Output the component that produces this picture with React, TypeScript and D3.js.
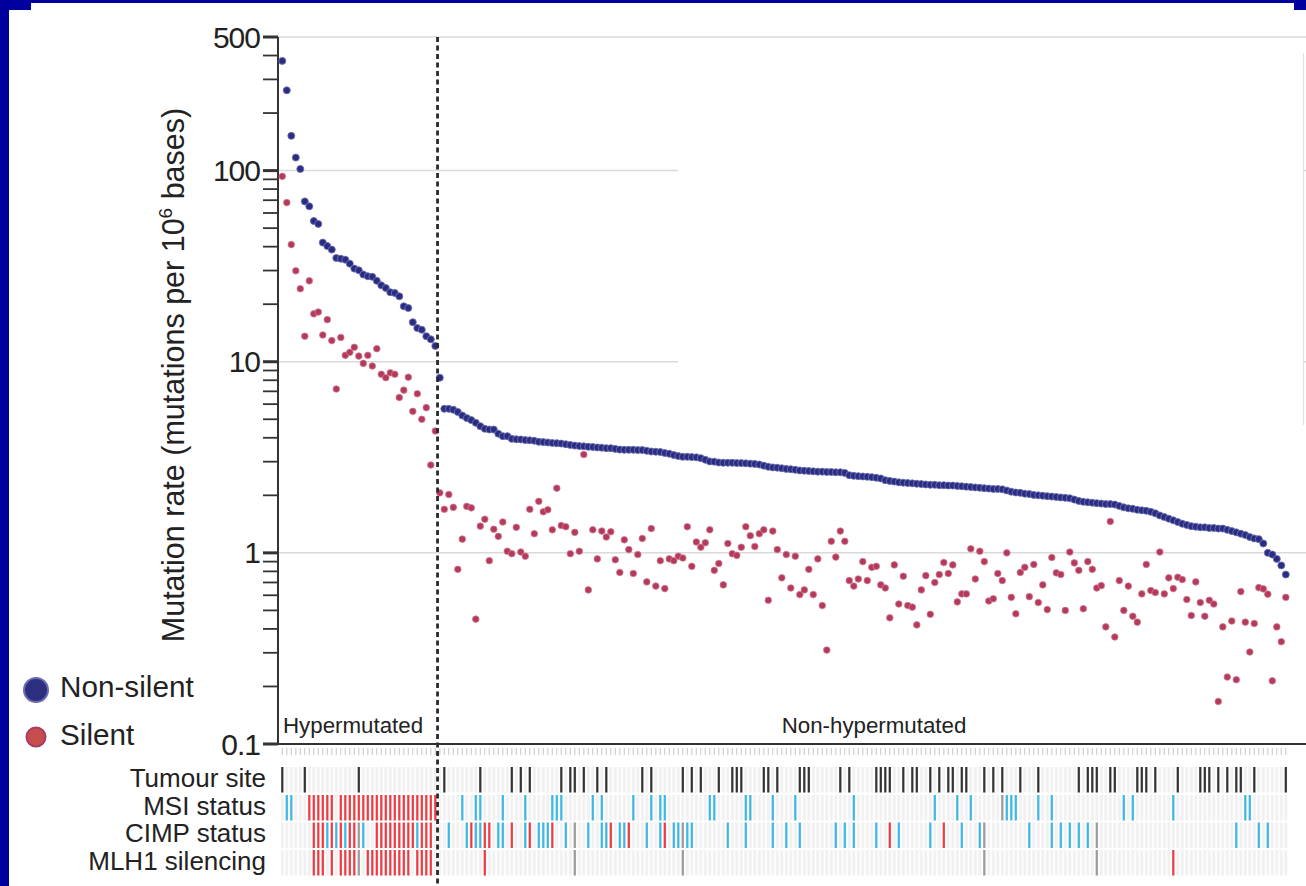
import React from "react";
import * as d3 from "d3";

// ---------- DATA ----------
// Non-silent mutation rate per sample (mutations per 10^6 bases), sorted
const nonSilent: number[] = [
  375, 263, 152, 117, 102, 69, 65, 54.5, 52.6, 42, 40.3, 38.6, 34.9, 34.6, 34.2, 32.6, 30.7, 30.1, 28.6, 28.0,
  27.8, 26.5, 25.1, 24.3, 23.1, 22.9, 22.0, 19.5, 19.1, 16.1, 15.0, 14.7, 13.6, 13.1, 12.1,
  8.25, 5.67, 5.67, 5.61, 5.46, 5.23, 5.07, 4.95, 4.79, 4.6, 4.46, 4.42, 4.42, 4.2, 4.08,
  4.08, 3.95, 3.93, 3.92, 3.89, 3.88, 3.86, 3.81, 3.8, 3.78, 3.76, 3.75, 3.73, 3.7, 3.67,
  3.64, 3.62, 3.61, 3.59, 3.58, 3.56, 3.55, 3.53, 3.53, 3.5, 3.47, 3.46, 3.46, 3.46, 3.45,
  3.45, 3.42, 3.39, 3.38, 3.37, 3.33, 3.3, 3.25, 3.21, 3.18, 3.18, 3.17, 3.16, 3.13, 3.07,
  3.01, 3.0, 2.97, 2.96, 2.96,
  2.96, 2.95, 2.95, 2.94, 2.93, 2.92, 2.9, 2.86,
  2.82, 2.8, 2.79, 2.77, 2.75, 2.74, 2.72, 2.7,
  2.69, 2.68, 2.67, 2.66, 2.66, 2.65, 2.65, 2.64, 2.64, 2.62,
  2.55, 2.53, 2.52, 2.51, 2.5, 2.49, 2.47, 2.45, 2.4, 2.38,
  2.36, 2.34, 2.33, 2.32, 2.31, 2.3, 2.29, 2.28, 2.27, 2.27,
  2.26, 2.26, 2.25, 2.25, 2.24, 2.23, 2.22, 2.21, 2.2, 2.19,
  2.18, 2.17, 2.16, 2.16, 2.15, 2.12, 2.09, 2.07, 2.06, 2.04,
  2.03, 2.01, 2.0, 1.99, 1.98, 1.97, 1.96, 1.95, 1.94, 1.93,
  1.9, 1.87, 1.85, 1.84, 1.83, 1.82, 1.81, 1.8, 1.8, 1.79,
  1.76, 1.73, 1.71, 1.7, 1.68, 1.67, 1.66, 1.64, 1.61, 1.57,
  1.54, 1.51, 1.48, 1.45, 1.42, 1.4, 1.38, 1.37, 1.36, 1.36,
  1.35, 1.35, 1.34, 1.34, 1.32, 1.3, 1.28, 1.26, 1.24, 1.21,
  1.19, 1.18, 1.12, 1.0, 0.98, 0.93, 0.86, 0.77,
];

// Silent mutation rate per sample
const silent: number[] = [
  93.3, 68, 41, 29.9, 24.1, 13.6, 26.5, 17.8, 18.2, 13.8, 16.6, 12.9, 7.2, 13.4, 10.8, 11.2, 11.9, 10.7, 9.8, 10.8,
  9.5, 11.7, 8.6, 8.25, 8.75, 8.6, 6.5, 7.1, 8.3, 5.5, 6.8, 5.0, 5.75, 2.88, 4.34,
  2.06, 1.69, 2.02, 1.73, 0.82, 1.18, 1.75, 1.72, 0.45, 1.38, 1.5, 0.91, 1.33, 1.22, 1.45,
  1.02, 0.99, 1.36, 1.01, 0.96, 1.69, 1.26, 1.86, 1.64, 1.68, 1.32, 2.18, 1.39, 1.37, 0.99,
  1.28, 1.02, 3.27, 0.64, 1.32, 0.93, 1.3, 1.21, 1.29, 0.92, 0.79, 1.17, 1.04, 0.78, 0.98,
  1.19, 0.705, 1.34, 0.67, 0.91, 0.65, 0.93, 0.91, 0.96, 0.94, 1.37, 0.85, 1.14, 1.07, 1.13,
  1.32, 0.81, 0.88, 0.68, 1.12,
  0.99, 0.97, 1.07, 1.37, 1.23, 1.08, 1.26, 1.32, 0.565, 1.3,
  1.04, 0.74, 0.98, 0.655, 0.96, 0.605, 0.64, 0.82, 0.605, 0.93,
  0.53, 0.31, 1.15, 0.95, 1.3, 1.15, 0.716, 0.67, 0.73, 0.9,
  0.716, 0.84, 0.85, 0.68, 0.655, 0.457, 0.865, 0.54, 0.755, 0.53,
  0.52, 0.42, 0.64, 0.76, 0.477, 0.7, 0.77, 0.89, 0.78, 0.865,
  0.554, 0.61, 0.61, 1.05, 0.73, 1.02, 0.9, 0.56, 0.575, 0.78,
  0.716, 1.0, 0.585, 0.48, 0.79, 0.84, 0.59, 0.87, 0.55, 0.68,
  0.505, 0.945, 0.786, 0.77, 0.5, 1.01, 0.886, 0.81, 0.51, 0.9,
  0.82, 0.655, 0.674, 0.41, 1.46, 0.363, 0.716, 0.5, 0.67, 0.466,
  0.434, 0.61, 0.87, 0.635, 0.62, 1.01, 0.61, 0.74, 0.65, 0.746,
  0.725, 0.57, 0.47, 0.705, 0.55, 0.466, 0.565, 0.54, 0.167, 0.41,
  0.224, 0.44, 0.217, 0.627, 0.434, 0.303, 0.427, 0.658, 0.648, 0.608,
  0.214, 0.41, 0.343, 0.585,
];

const hypermutatedCount = 35;

const yTickLabels: number[] = [500, 100, 10, 1, 0.1];
const yMinorTicks: number[] = [
  400, 300, 200,
  90, 80, 70, 60, 50, 40, 30, 20,
  9, 8, 7, 6, 5, 4, 3, 2,
  0.9, 0.8, 0.7, 0.6, 0.5, 0.4, 0.3, 0.2,
];
const gridValues: number[] = [500, 100, 10, 1];

const trackLabels: string[] = ["Tumour site", "MSI status", "CIMP status", "MLH1 silencing"];

// Tumour site (black marks)
const tumourSiteMarked: number[] = [
  0, 5, 17, 36, 44, 51, 53, 55, 62, 64, 65, 67, 70, 72, 80, 82, 89, 91, 93, 97, 100, 101, 102, 107, 108,
  110, 115, 116, 117, 124, 126, 132, 133, 134, 135, 138, 140, 141, 144, 146, 148, 149, 151, 152, 156,
  158, 160, 164, 168, 177, 179, 180, 181, 184, 185, 190, 191, 192, 194, 199, 204, 205, 206, 208, 210,
  212, 213, 216, 223,
];
// MSI status
const msiHigh: number[] = [6, 7, 8, 9, 10, 11, 13, 14, 15, 16, 17, 18, 19, 20, 21, 22, 23, 24, 25, 26, 27, 28, 29, 30, 31, 32, 33, 34];
const msiLow: number[] = [
  1, 2, 40, 43, 44, 49, 54, 60, 61, 62, 69, 71, 78, 82, 84, 85, 95, 96, 103, 104, 109, 114, 127, 145,
  150, 153, 161, 162, 163, 168, 171, 187, 189, 198, 214, 215,
];
const msiOther: number[] = [160];
// CIMP status
const cimpHigh: number[] = [7, 8, 9, 11, 13, 15, 16, 21, 22, 23, 24, 25, 26, 27, 28, 29, 31, 32, 33, 42, 45, 46, 51, 55, 60, 73, 77, 85, 135, 147];
const cimpLow: number[] = [
  10, 12, 14, 18, 30, 37, 41, 43, 44, 48, 49, 54, 57, 58, 59, 63, 68, 71, 72, 75, 76, 81, 84, 87, 88,
  90, 91, 99, 103, 109, 112, 115, 123, 125, 127, 132, 137, 144, 151, 155, 166, 171, 173, 175, 177,
  179, 212, 217, 219,
];
const cimpOther: number[] = [17, 65, 89, 156, 181];
// MLH1 silencing
const mlh1Silenced: number[] = [7, 8, 9, 11, 13, 14, 15, 16, 19, 20, 21, 22, 23, 24, 25, 26, 27, 28, 30, 31, 32, 33, 45, 198];
const mlh1Other: number[] = [17, 65, 89, 156, 181];

// ---------- STYLE ----------
const FONT = "'Liberation Sans', Arial, Helvetica, sans-serif";
const BLUE_DOT = "#2a2c82";
const RED_DOT = "#b4395a";
const BAR_RED = "#ef3b42";
const BAR_BLUE = "#3cb9e6";
const BAR_BLACK = "#333333";
const BAR_GRAY = "#9c9c9c";

export default function App() {
  const W = 1306;
  const H = 886;
  const N = nonSilent.length;
  const x = d3.scaleLinear().domain([0, N - 1]).range([282.3, 1285.8]);
  const y = d3.scaleLog().domain([0.1, 500]).range([744, 37]);
  const axisX = 278;
  const xEnd = 1306;
  const sepX = (x(hypermutatedCount - 1) + x(hypermutatedCount)) / 2;

  const rowTop = [767, 795, 822.5, 850];
  const rowH = 25.5;
  const idx = d3.range(N);

  const bars = (list: number[], row: number, color: string, key: string) =>
    list.map((i) => (
      <rect key={key + i} x={x(i) - 1.1} y={rowTop[row]} width={2.2} height={rowH} fill={color} />
    ));

  return (
    <svg width={W} height={H} style={{ position: "absolute", left: 0, top: 0 }} fontFamily={FONT}>
      {/* frame */}
      <rect x={0} y={0} width={W} height={H} fill="#00009e" />
      <rect x={9} y={10} width={W - 9} height={H - 10} fill="#ffffff" />
      <rect x={31} y={3} width={1263} height={8} fill="#ffffff" />

      {/* gridlines */}
      {gridValues.map((v) => (
        <line key={"g" + v} x1={axisX} x2={xEnd} y1={y(v)} y2={y(v)} stroke="#dadada" strokeWidth={1.5} />
      ))}
      {/* white overlay box (covering grid at right) */}
      <rect x={678} y={53} width={625} height={372} fill="#ffffff" />
      <line x1={1303.5} x2={1303.5} y1={53} y2={425} stroke="#e2e2e2" strokeWidth={1.2} />

      {/* y axis ticks */}
      {yMinorTicks.map((v) => (
        <line key={"m" + v} x1={263} x2={axisX} y1={y(v)} y2={y(v)} stroke="#333" strokeWidth={1.8} />
      ))}
      {yTickLabels.map((v) => (
        <g key={"t" + v}>
          <line x1={263} x2={axisX} y1={y(v)} y2={y(v)} stroke="#333" strokeWidth={3} />
          <text x={260} y={y(v) + 10.5} textAnchor="end" fontSize={30} fill="#222" letterSpacing={-1}>
            {String(v)}
          </text>
        </g>
      ))}
      <line x1={axisX} x2={axisX} y1={y(500)} y2={y(0.1)} stroke="#333" strokeWidth={2} />
      <line x1={axisX - 1} x2={xEnd} y1={y(0.1)} y2={y(0.1)} stroke="#333" strokeWidth={2} />

      {/* y axis title */}
      <text
        transform={`translate(184, 375) rotate(-90)`}
        textAnchor="middle"
        fontSize={30.5}
        fill="#222"
      >
        Mutation rate (mutations per 10<tspan dy={-12} fontSize={19}>6</tspan>
        <tspan dy={12}> bases)</tspan>
      </text>

      {/* region labels */}
      <text x={283} y={733} fontSize={22.3} fill="#222">Hypermutated</text>
      <text x={874} y={733} fontSize={22.3} fill="#222" textAnchor="middle">
        Non-hypermutated
      </text>

      {/* faint sample ticks under axis */}
      {idx.map((i) => (
        <line key={"st" + i} x1={x(i)} x2={x(i)} y1={748} y2={755} stroke="#cfcfcf" strokeWidth={1.2} />
      ))}

      {/* track backgrounds */}
      {rowTop.map((ry, r) =>
        idx.map((i) => (
          <rect key={"bg" + r + "-" + i} x={x(i) - 1.5} y={ry} width={3} height={rowH} fill="#f1f1f1" />
        ))
      )}

      {/* track bars */}
      {bars(tumourSiteMarked, 0, BAR_BLACK, "ts")}
      {bars(msiHigh, 1, BAR_RED, "mh")}
      {bars(msiLow, 1, BAR_BLUE, "ml")}
      {bars(msiOther, 1, BAR_GRAY, "mo")}
      {bars(cimpHigh, 2, BAR_RED, "ch")}
      {bars(cimpLow, 2, BAR_BLUE, "cl")}
      {bars(cimpOther, 2, BAR_GRAY, "co")}
      {bars(mlh1Silenced, 3, BAR_RED, "lh")}
      {bars(mlh1Other, 3, BAR_GRAY, "lo")}

      {/* track labels */}
      {trackLabels.map((t, r) => (
        <text key={t} x={266} y={rowTop[r] + 19.5} textAnchor="end" fontSize={26} fill="#222">
          {t}
        </text>
      ))}

      {/* dots */}
      {nonSilent.map((v, i) => (
        <circle key={"b" + i} cx={x(i)} cy={y(v)} r={3.5} fill={BLUE_DOT} stroke="#6c6fb0" strokeWidth={0.9} />
      ))}
      {silent.map((v, i) => (
        <circle key={"r" + i} cx={x(i)} cy={y(v)} r={3.3} fill={RED_DOT} stroke="#d07d95" strokeWidth={0.8} />
      ))}

      {/* separator */}
      <line x1={sepX} x2={sepX} y1={37} y2={H} stroke="#2a2a2a" strokeWidth={2.8} strokeDasharray="5 3.5" />

      {/* legend */}
      <circle cx={36} cy={690} r={12} fill="#2c2f80" stroke="#6a6db0" strokeWidth={2} />
      <text x={60} y={697} fontSize={29.7} fill="#222">Non-silent</text>
      <circle cx={36} cy={737} r={9.5} fill="#c84e4e" stroke="#a83c68" strokeWidth={2} />
      <text x={60} y={745} fontSize={29.7} fill="#222">Silent</text>
    </svg>
  );
}
